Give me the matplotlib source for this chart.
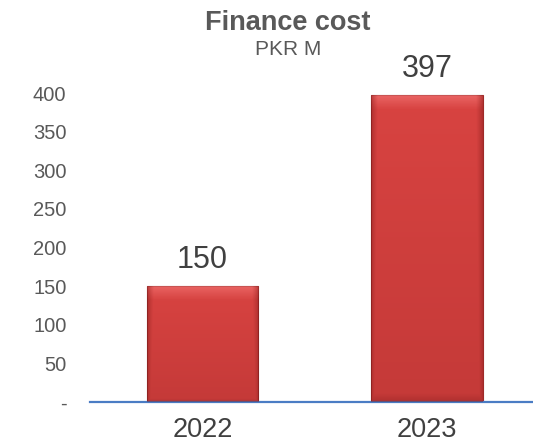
import matplotlib.pyplot as plt
import numpy as np

plt.rcParams['font.family'] = ['Liberation Sans', 'DejaVu Sans']

years = ['2022', '2023']
finance_cost = [150, 397]
yticks = [0, 50, 100, 150, 200, 250, 300, 350, 400]
ytick_labels = ['-', '50', '100', '150', '200', '250', '300', '350', '400']

fig = plt.figure(figsize=(5.33, 4.47), dpi=100)
ax = fig.add_axes([90 / 533, 45 / 447, 443 / 533, 347.6 / 447])

x = np.arange(len(years))
bars = ax.bar(x, finance_cost, width=0.497, color='#D84341', edgecolor='#9E2A28',
              linewidth=0.8, zorder=2)

# bevel look: light top band, darker sides / bottom
for b in bars:
    bx, by = b.get_x(), b.get_y()
    bw, bh = b.get_width(), b.get_height()
    xs = np.abs(np.linspace(-1, 1, 200))
    ys = np.linspace(0, 1, 200)
    dark = np.zeros((200, 200, 4))
    dark[..., 0] = 0.5
    dark[..., 1] = 0.1
    dark[..., 2] = 0.1
    side = np.clip((xs - 0.88) / 0.12, 0, 1)[None, :]
    bottom = np.clip((0.05 - ys) / 0.05, 0, 1)[:, None]
    vert = (0.22 * (1 - ys))[:, None]
    dark[..., 3] = np.clip(np.maximum(np.maximum(side * 0.45, bottom * 0.45), vert), 0, 0.6)
    ax.imshow(dark, extent=[bx, bx + bw, by, by + bh], origin='lower',
              aspect='auto', zorder=3)
    light = np.ones((200, 200, 4))
    light[..., 1] = 0.55
    light[..., 2] = 0.55
    top_px = 14 / (bh * 0.7725)
    top = np.clip((ys - (1 - top_px)) / top_px, 0, 1)[:, None] * (1 - side * 0.7)
    light[..., 3] = top * 0.45
    ax.imshow(light, extent=[bx, bx + bw, by, by + bh], origin='lower',
              aspect='auto', zorder=3)
    ax.annotate(f'{bh:.0f}', (bx + bw / 2, bh), xytext=(0, 13),
                textcoords='offset points', ha='center', va='baseline',
                fontsize=22, color='#404040', zorder=4)

ax.set_xlim(-0.501, 1.472)
ax.set_ylim(0, 450)
ax.set_xticks(x)
ax.set_xticklabels(years, fontsize=19.5, color='#404040')
ax.set_yticks(yticks)
ax.set_yticklabels(ytick_labels, fontsize=14.5, color='#595959')
ax.tick_params(axis='both', length=0)
ax.tick_params(axis='y', pad=17)
ax.tick_params(axis='x', pad=11)

for s in ['top', 'right', 'left']:
    ax.spines[s].set_visible(False)
ax.spines['bottom'].set_color('#4A7CC4')
ax.spines['bottom'].set_linewidth(1.6)

fig.text(288 / 533, 1 - 30 / 447, 'Finance cost', ha='center', va='baseline',
         fontsize=19.5, fontweight='bold', color='#595959')
fig.text(288 / 533, 1 - 55 / 447, 'PKR M', ha='center', va='baseline',
         fontsize=15, color='#595959')

fig.savefig('out.png', dpi=100)
